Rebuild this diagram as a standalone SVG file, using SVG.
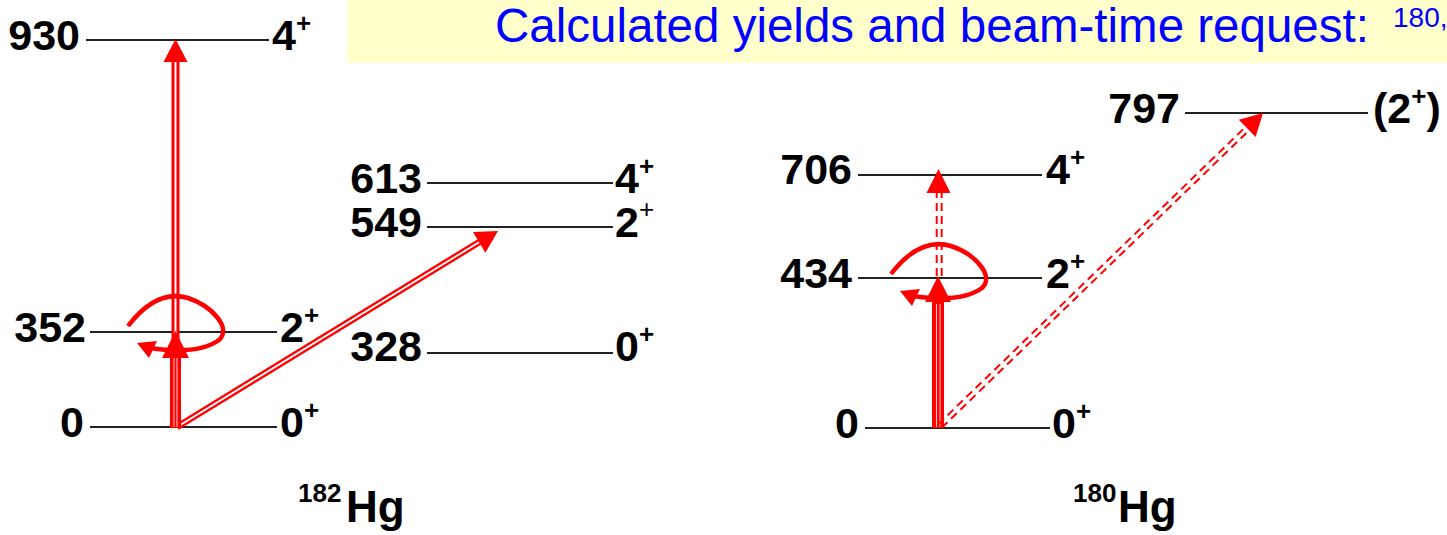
<svg xmlns="http://www.w3.org/2000/svg" width="1447" height="535" viewBox="0 0 1447 535">
  <style>
    .lvl { stroke: #222; stroke-width: 2; fill: none; }
    .lab { font-family: "Liberation Sans", Arial, sans-serif; font-size: 43px; font-weight: bold; fill: #000; }
    .end { text-anchor: end; }
    .sup { font-size: 26px; }
    .iso { font-family: "Liberation Sans", Arial, sans-serif; font-weight: bold; fill: #000; }
    .title { font-family: "Liberation Sans", Arial, sans-serif; font-size: 47.5px; fill: #0000FF; }
    .dbl-o { stroke: #FF0000; fill: none; stroke-linecap: butt; }
    .dbl-i { stroke: #FFFFFF; fill: none; stroke-linecap: butt; }
    .dash { stroke: #FF0000; stroke-width: 2; fill: none; stroke-dasharray: 8 5; }
    .head { fill: #FF0000; stroke: none; }
    .thick { fill: #FF0000; }
    .loop { stroke: #FF0000; stroke-width: 4.5; fill: none; }
  </style>
  <defs>
    <g id="reorient">
      <path class="loop" d="M128,326 C148,300 168,292 188,298 C212,306 232,328 219,340 C204,351 178,352 150,348"/>
      <polygon class="head" points="137,343 157,341 149,358"/>
    </g>
  </defs>

  <rect id="title-bg" x="347" y="0" width="1100" height="63" fill="#FFFFCC"/>
  <g id="title">
    <text class="title" x="495" y="42">Calculated yields and beam-time request: <tspan x="1393" y="27" font-size="28">180,</tspan></text>
  </g>

  <!-- 182Hg levels -->
  <g id="hg182-930">
    <line class="lvl" x1="86" y1="40" x2="269" y2="40"/>
    <text class="lab end" x="80" y="50">930</text>
    <text class="lab" x="272" y="50">4<tspan class="sup" dy="-18">+</tspan></text>
  </g>
  <g id="hg182-613">
    <line class="lvl" x1="427" y1="183" x2="613" y2="183"/>
    <text class="lab end" x="422" y="193">613</text>
    <text class="lab" x="615" y="193">4<tspan class="sup" dy="-18">+</tspan></text>
  </g>
  <g id="hg182-549">
    <line class="lvl" x1="427" y1="227" x2="613" y2="227"/>
    <text class="lab end" x="422" y="237">549</text>
    <text class="lab" x="615" y="237">2<tspan class="sup" font-size="20" font-weight="normal" dy="-19">+</tspan></text>
  </g>
  <g id="hg182-352">
    <line class="lvl" x1="90" y1="332" x2="277" y2="332"/>
    <text class="lab end" x="86" y="342">352</text>
    <text class="lab" x="280" y="342">2<tspan class="sup" dy="-18">+</tspan></text>
  </g>
  <g id="hg182-328">
    <line class="lvl" x1="427" y1="353" x2="613" y2="353"/>
    <text class="lab end" x="422" y="361">328</text>
    <text class="lab" x="615" y="361">0<tspan class="sup" dy="-18">+</tspan></text>
  </g>
  <g id="hg182-0">
    <line class="lvl" x1="90" y1="427" x2="277" y2="427"/>
    <text class="lab end" x="84" y="437">0</text>
    <text class="lab" x="280" y="437">0<tspan class="sup" dy="-18">+</tspan></text>
  </g>
  <g id="hg182-label">
    <text class="iso" x="298" y="502" font-size="26">182</text>
    <text class="iso" x="346" y="522" font-size="44">Hg</text>
  </g>

  <!-- 180Hg levels -->
  <g id="hg180-797">
    <line class="lvl" x1="1185" y1="113" x2="1368" y2="113"/>
    <text class="lab end" x="1180" y="123">797</text>
    <text class="lab" x="1373" y="123">(2<tspan class="sup" dy="-18">+</tspan><tspan dy="18">)</tspan></text>
  </g>
  <g id="hg180-706">
    <line class="lvl" x1="858" y1="175" x2="1042" y2="175"/>
    <text class="lab end" x="852" y="184">706</text>
    <text class="lab" x="1046" y="184">4<tspan class="sup" dy="-18">+</tspan></text>
  </g>
  <g id="hg180-434">
    <line class="lvl" x1="858" y1="278" x2="1042" y2="278"/>
    <text class="lab end" x="852" y="288">434</text>
    <text class="lab" x="1046" y="288">2<tspan class="sup" dy="-18">+</tspan></text>
  </g>
  <g id="hg180-0">
    <line class="lvl" x1="865" y1="428" x2="1050" y2="428"/>
    <text class="lab end" x="859" y="438">0</text>
    <text class="lab" x="1052" y="438">0<tspan class="sup" dy="-18">+</tspan></text>
  </g>
  <g id="hg180-label">
    <text class="iso" x="1073" y="502" font-size="26">180</text>
    <text class="iso" x="1118" y="522" font-size="44">Hg</text>
  </g>

  <!-- connectors -->
  <g id="connectors">
    <!-- 182Hg: 0 -> 930 (double line) -->
    <line class="dbl-o" x1="175.5" y1="428" x2="175.5" y2="60" stroke-width="8"/>
    <line class="dbl-i" x1="175.5" y1="428" x2="175.5" y2="60" stroke-width="2"/>
    <polygon class="head" points="175.5,39 163.5,62 187.5,62"/>
    <!-- 182Hg: 0 -> 549 (double line) -->
    <line class="dbl-o" x1="177" y1="427" x2="481" y2="241" stroke-width="6.5"/>
    <line class="dbl-i" x1="177" y1="427" x2="481" y2="241" stroke-width="1.8"/>
    <polygon class="head" points="498,231 485.4,252.7 473,232.1"/>
    <!-- 182Hg: 0 -> 352 (thick) -->
    <rect class="thick" x="170" y="354" width="11" height="74"/>
    <line x1="174" y1="358" x2="174" y2="427" stroke="#FFF" stroke-width="0.8"/>
    <line x1="177" y1="358" x2="177" y2="427" stroke="#FFF" stroke-width="0.8"/>
    <polygon class="head" points="175.5,331 162,358 189,358"/>
    <!-- 182Hg: 2+ reorientation -->
    <use href="#reorient"/>

    <!-- 180Hg: 0 -> 434 (thick) -->
    <rect class="thick" x="932" y="300" width="12" height="128"/>
    <line x1="936.5" y1="304" x2="936.5" y2="427" stroke="#FFF" stroke-width="0.8"/>
    <line x1="940" y1="304" x2="940" y2="427" stroke="#FFF" stroke-width="0.8"/>
    <polygon class="head" points="938,276 925,302 951,302"/>
    <!-- 180Hg: 434 -> 706 (dashed double) -->
    <line class="dash" x1="936.7" y1="276" x2="936.7" y2="192"/>
    <line class="dash" x1="941.7" y1="276" x2="941.7" y2="192"/>
    <polygon class="head" points="938.5,169 926.5,193 950.5,193"/>
    <!-- 180Hg: 0 -> 797 (dashed double) -->
    <line class="dash" x1="941.7" y1="427.8" x2="1250.7" y2="128.8"/>
    <line class="dash" x1="938.3" y1="424.2" x2="1247.3" y2="125.2"/>
    <polygon class="head" points="1263,113 1255.6,137 1238.8,119.8"/>
    <!-- 180Hg: 2+ reorientation -->
    <use href="#reorient" transform="translate(763,-52)"/>
  </g>
</svg>
